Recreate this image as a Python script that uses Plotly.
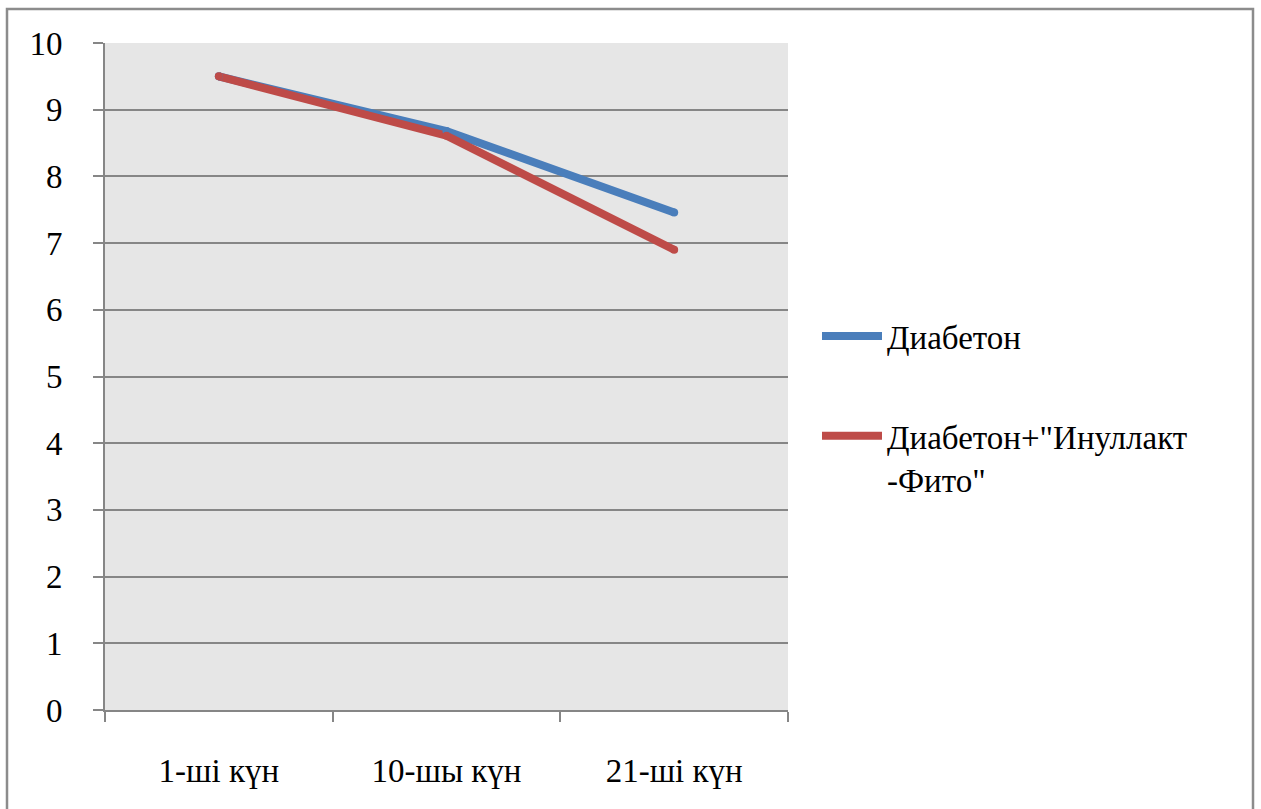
import plotly.graph_objects as go

categories = ["1-ші күн", "10-шы күн", "21-ші күн"]
diabeton = [9.5, 8.68, 7.46]
diabeton_inul = [9.5, 8.61, 6.9]
series_names = ["Диабетон", 'Диабетон+"Инуллакт<br>-Фито"']
colors = ["#4A7EBB", "#BE4B48"]
y_ticks = list(range(0, 11))

W, H = 1261, 809
L, R, T, B = 105, 788, 43, 710

fig = go.Figure()
for i, (vals, name) in enumerate([(diabeton, series_names[0]), (diabeton_inul, series_names[1])]):
    fig.add_trace(go.Scatter(x=categories, y=vals, mode="lines", name=name,
                             line=dict(color=colors[i], width=8), legendgroup=str(i)))
for i, vals in enumerate([diabeton, diabeton_inul]):
    fig.add_trace(go.Scatter(x=categories, y=vals, mode="markers", showlegend=False,
                             marker=dict(color=colors[i], size=8, line=dict(width=0)),
                             hoverinfo="skip"))

FAM = "Liberation Serif"
SIZE = 33

def fnt():
    return dict(family=FAM, size=SIZE, color="black")

def px(xp):
    return (xp - L) / (R - L)

def py(yp):
    return (B - yp) / (B - T)

fig.update_layout(
    width=W, height=H,
    margin=dict(l=L, r=W - R, t=T, b=H - B, pad=0),
    paper_bgcolor="white",
    plot_bgcolor="#E6E6E6",
    font=fnt(),
    showlegend=True,
    legend=dict(x=px(817), y=py(308), xanchor="left", yanchor="top",
                font=fnt(), bgcolor="rgba(0,0,0,0)", traceorder="grouped",
                tracegroupgap=54, valign="top", itemwidth=60),
    xaxis=dict(type="category", tickson="boundaries", ticks="outside", ticklen=10,
               tickcolor="#868686", tickwidth=2, showline=True, linecolor="#868686",
               linewidth=2, showgrid=False, range=[-0.5, 2.5], ticklabelstandoff=30,
               tickfont=fnt(), zeroline=False),
    yaxis=dict(range=[0, 10], tickvals=y_ticks, ticks="outside", ticklen=10,
               tickcolor="#868686", tickwidth=2, showline=True, linecolor="#868686",
               linewidth=2, showgrid=True, gridcolor="#868686", gridwidth=2,
               zeroline=False, ticklabelstandoff=24, tickfont=fnt()),
    shapes=[dict(type="rect", xref="paper", yref="paper",
                 x0=px(7), x1=px(1253), y0=py(812), y1=py(9),
                 line=dict(color="#8C8C8C", width=2.5), fillcolor="rgba(0,0,0,0)",
                 layer="below")],
)

fig.write_html("out.html")
